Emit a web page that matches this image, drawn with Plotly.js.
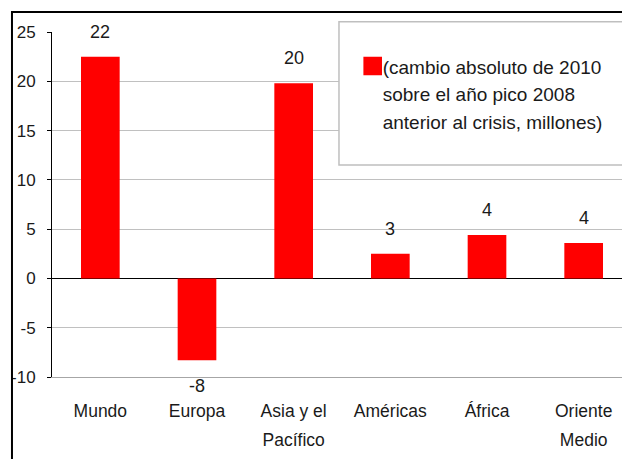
<!DOCTYPE html>
<html>
<head>
<meta charset="utf-8">
<script src="https://cdn.plot.ly/plotly-3.0.1.min.js"></script>
<style>
html, body { margin: 0; padding: 0; overflow: hidden; background: #fff; }
#chart { width: 640px; height: 459px; }
#chart .legend .legendpoints path { transform: translate(30px, 0px) scale(1.55); }
</style>
</head>
<body>
<div id="chart"></div>
<script>
const categories = ["Mundo", "Europa", "Asia y el|Pacífico", "Américas", "África", "Oriente|Medio"];
const values = [22.5, -8.3, 19.8, 2.5, 4.4, 3.6];
const valueLabels = ["22", "-8", "20", "3", "4", "4"];
const legendLines = ["(cambio absoluto de 2010", "sobre el año pico 2008", "anterior al crisis, millones)"];
const yTickVals = [-10, -5, 0, 5, 10, 15, 20, 25];

const FONT = "'Liberation Sans', Arial, sans-serif";
const TXT = "#1a1a1a";

// wrap each line in a smaller span while the parent font size sets the line spacing
function wrapLines(lines, px) {
  return lines.map(l => '<span style="font-size:' + px + 'px">' + l + '</span>').join('<br>');
}

const trace = {
  type: "bar",
  x: categories,
  y: values,
  name: wrapLines(legendLines, 19),
  marker: { color: "#ff0000", line: { width: 0 } },
  hoverinfo: "x+y",
  showlegend: true
};

const annotations = categories.map((c, i) => ({
  x: c,
  y: values[i],
  xref: "x",
  yref: "y",
  text: valueLabels[i],
  showarrow: false,
  yanchor: "middle",
  yshift: values[i] >= 0 ? 25 : -26,
  font: { family: FONT, size: 18, color: TXT }
}));

const layout = {
  width: 640,
  height: 459,
  margin: { l: 52, r: 8, t: 32, b: 82 },
  paper_bgcolor: "#ffffff",
  plot_bgcolor: "#ffffff",
  font: { family: FONT, color: TXT },
  bargap: 0.6,
  xaxis: {
    type: "category",
    tickmode: "array",
    tickvals: categories,
    ticktext: categories.map(c => wrapLines(c.split("|"), 17.5)),
    showgrid: false,
    showline: true,
    linecolor: "#a6a6a6",
    linewidth: 1,
    ticks: "",
    ticklabelstandoff: 13,
    tickfont: { family: FONT, size: 22, color: TXT },
    fixedrange: true
  },
  yaxis: {
    range: [-10, 25],
    tickvals: yTickVals,
    ticktext: yTickVals.map(String),
    showgrid: true,
    gridcolor: "#c0c0c0",
    gridwidth: 1,
    zeroline: true,
    zerolinecolor: "#000000",
    zerolinewidth: 1,
    showline: true,
    linecolor: "#000000",
    linewidth: 1,
    ticks: "outside",
    ticklen: 4,
    tickcolor: "#000000",
    ticklabelstandoff: 8,
    tickfont: { family: FONT, size: 17, color: TXT },
    fixedrange: true
  },
  showlegend: true,
  legend: {
    x: 0.5012,
    y: 0.96,
    xanchor: "left",
    yanchor: "top",
    valign: "top",
    bgcolor: "rgba(0,0,0,0)",
    borderwidth: 0,
    font: { family: FONT, size: 21, color: TXT }
  },
  shapes: [
    {
      type: "rect", xref: "paper", yref: "paper",
      x0: -0.069, x1: 1.3, y0: -0.6, y1: 1.058,
      line: { color: "#000000", width: 2 },
      fillcolor: "rgba(0,0,0,0)",
      layer: "above"
    },
    {
      type: "rect", xref: "paper", yref: "paper",
      x0: 0.4948, x1: 1.2, y0: 0.6145, y1: 1.03,
      line: { color: "#bfbfbf", width: 1.5 },
      fillcolor: "#ffffff",
      layer: "above"
    }
  ],
  annotations: annotations
};

Plotly.newPlot("chart", [trace], layout, { displayModeBar: false, staticPlot: true });
</script>
</body>
</html>
